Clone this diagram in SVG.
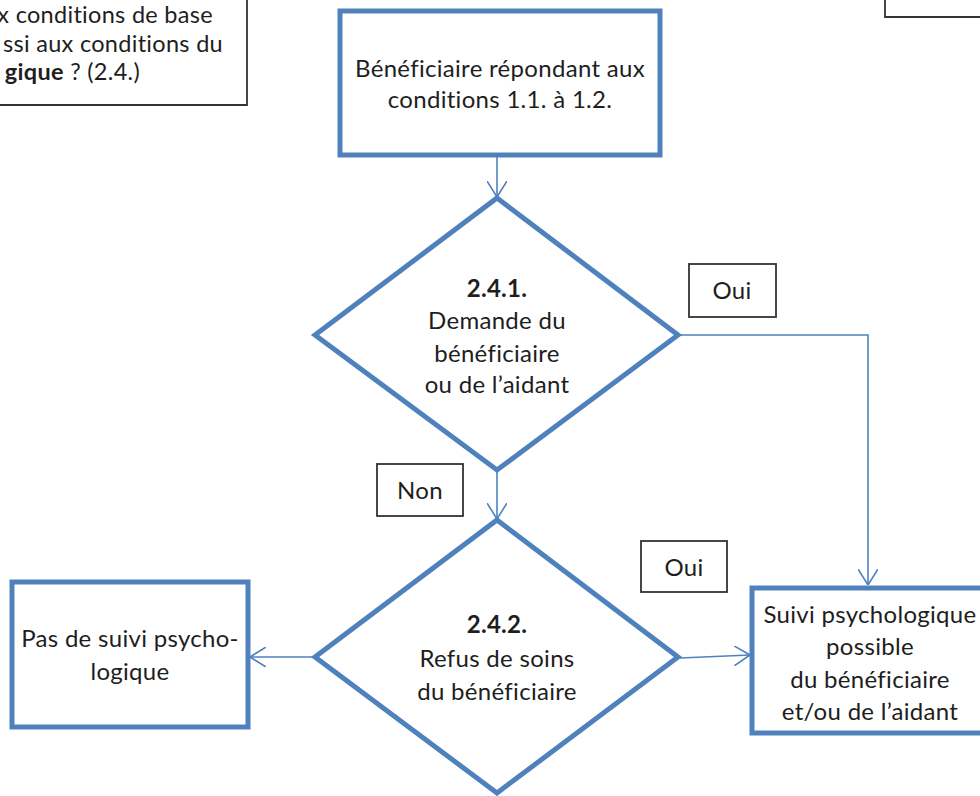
<svg xmlns="http://www.w3.org/2000/svg" width="980" height="796" viewBox="0 0 980 796">
<style>
.node{fill:#ffffff;stroke:#4f81bd;stroke-width:5;stroke-linejoin:miter}
.lbl{fill:#ffffff;stroke:#333333;stroke-width:1.8}
.conn{fill:none;stroke:#4f81bd;stroke-width:1.6}
text{font-family:Lato,"Open Sans","Liberation Sans",sans-serif;font-size:24px;letter-spacing:0.3px;fill:#1e1e1e;text-anchor:middle;font-variant-ligatures:no-common-ligatures}
.b{font-weight:bold}
.q{text-anchor:end;font-size:23.5px}
</style>
<defs>
<marker id="arr" viewBox="0 0 16 20" refX="16" refY="10" markerWidth="16" markerHeight="20" markerUnits="userSpaceOnUse" orient="auto">
<path d="M0,0 L16,10 L0,20" fill="none" stroke="#4f81bd" stroke-width="1.6"/>
</marker>
</defs>
<g id="question">
<path class="lbl" d="M-10,105 L247,105 L247,-10" fill="#fff"/>
<text x="213" y="23" class="q">x conditions de base</text>
<text x="223" y="52" class="q">ssi aux conditions du</text>
<text x="140" y="80" class="q"><tspan class="b">gique</tspan> ? (2.4.)</text>
</g>
<g id="topright">
<path class="lbl" d="M885,-10 L885,17 L990,17"/>
</g>
<g id="connectors">
<path class="conn" d="M497,157 L497,197" marker-end="url(#arr)"/>
<path class="conn" d="M680,335 L868,335 L868,585" marker-end="url(#arr)"/>
<path class="conn" d="M497,472 L497,519" marker-end="url(#arr)"/>
<path class="conn" d="M314,657 L250,657" marker-end="url(#arr)"/>
<path class="conn" d="M680,658 L750,655" marker-end="url(#arr)"/>
</g>
<g id="start">
<rect class="node" x="340" y="11" width="320" height="144"/>
<text x="500" y="77">Bénéficiaire répondant aux</text>
<text x="500" y="108">conditions 1.1. à 1.2.</text>
</g>
<g id="d1">
<polygon class="node" points="497,198 678,335 497,470 315,335"/>
<text x="497" y="297" class="b">2.4.1.</text>
<text x="497" y="329">Demande du</text>
<text x="497" y="362">bénéficiaire</text>
<text x="497" y="393">ou de l’aidant</text>
</g>
<g id="oui1">
<rect class="lbl" x="689" y="264" width="87" height="53"/>
<text x="732" y="299">Oui</text>
</g>
<g id="non">
<rect class="lbl" x="377" y="464" width="86" height="52"/>
<text x="420" y="499">Non</text>
</g>
<g id="d2">
<polygon class="node" points="497,520 678,657 497,793 315,657"/>
<text x="497" y="633" class="b">2.4.2.</text>
<text x="497" y="667">Refus de soins</text>
<text x="497" y="700">du bénéficiaire</text>
</g>
<g id="oui2">
<rect class="lbl" x="641" y="541" width="86" height="51"/>
<text x="684" y="576">Oui</text>
</g>
<g id="nosuivi">
<rect class="node" x="12" y="582" width="236" height="145"/>
<text x="130" y="647">Pas de suivi psycho-</text>
<text x="130" y="680">logique</text>
</g>
<g id="suivi">
<rect class="node" x="752" y="588" width="240" height="145"/>
<text x="870" y="623">Suivi psychologique</text>
<text x="870" y="655">possible</text>
<text x="870" y="688">du bénéficiaire</text>
<text x="870" y="720">et/ou de l’aidant</text>
</g>
</svg>
